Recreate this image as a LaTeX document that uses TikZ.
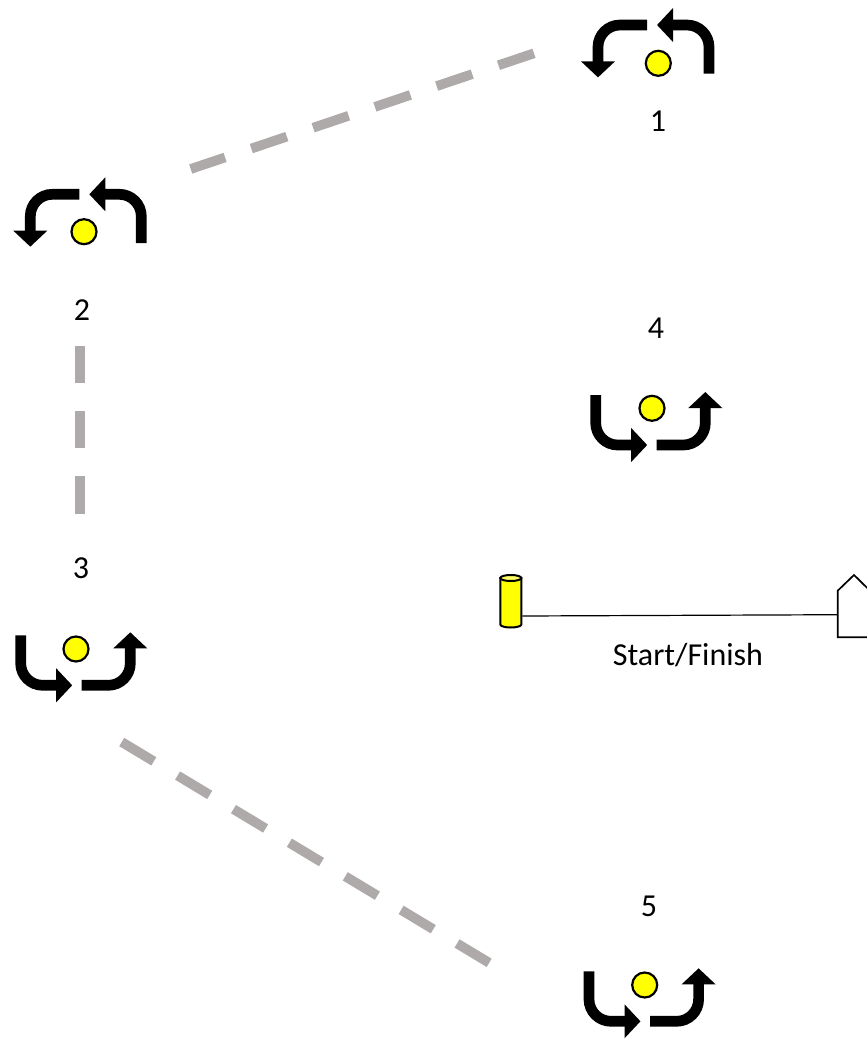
\documentclass[tikz,border=0pt]{standalone}
\usepackage{fontspec}
\setmainfont{Carlito}
\usetikzlibrary{arrows.meta}

\definecolor{legcolor}{HTML}{AEAAAA}
\definecolor{markcolor}{HTML}{FFFF00}
\definecolor{posttop}{HTML}{FFFF66}
\tikzset{
    turnarrow/.style={line width=10.7pt, rounded corners=22pt, -{Triangle[length=16pt,width=33pt]}},
    marker/.style={circle, draw, fill=markcolor, line width=2.2pt, inner sep=0pt, minimum size=25pt},
    tag/.style={inner sep=0pt, font=\fontsize{32}{32}\selectfont},
    leg/.style={draw=legcolor, line width=9.7pt, dash pattern=on 37.5pt off 27.7pt},
    pics/turnsdown/.style={code={
        \draw[turnarrow] (-6.5,0) -- (-55.5,0) -- (-55.5,52.4);
        \draw[turnarrow] (55.5,48.7) -- (55.5,0) -- (3.5,0);
    }},
    pics/turnsup/.style={code={
        \draw[turnarrow] (-54.8,-50) -- (-54.8,0) -- (-3.3,0);
        \draw[turnarrow] (6.2,0) -- (54.8,0) -- (54.8,-53);
    }}
}

\begin{document}
\begin{tikzpicture}[x=1pt,y=-1pt]
    \useasboundingbox (0,0) rectangle (867,1039);
    \clip (0,0) rectangle (867,1039);

    % Turns with their markers
    \pic at (653.5,25) {turnsdown};
    \node[marker] (mark1) at (658.3,63.3) {};
    \pic at (85.8,194.3) {turnsdown};
    \node[marker] (mark2) at (84,231.7) {};
    \pic at (75.5,685.3) {turnsup};
    \node[marker] (mark3) at (76,649) {};
    \pic at (650.5,445) {turnsup};
    \node[marker] (mark4) at (652,408.3) {};
    \pic at (643.8,1021.3) {turnsup};
    \node[marker] (mark5) at (644.7,985) {};

    % Numbers
    \node[tag] (num1) at (658,121) {1};
    \node[tag] (num2) at (82,310) {2};
    \node[tag] (num3) at (81,568) {3};
    \node[tag] (num4) at (656,328) {4};
    \node[tag] (num5) at (649,906) {5};

    % Legs between the turns
    \coordinate (leg1a) at (534,53.3);
    \coordinate (leg1b) at (190.7,169);
    \coordinate (leg2a) at (79.8,345.7);
    \coordinate (leg2b) at (79.8,514);
    \coordinate (leg3a) at (121.7,742);
    \coordinate (leg3b) at (490,963.3);
    \draw[leg] (leg1a) -- (leg1b);
    \draw[leg] (leg2a) -- (leg2b);
    \draw[leg] (leg3a) -- (leg3b);

    % Start/Finish line
    \filldraw[fill=markcolor, line width=2pt] (500.3,578) -- (500.3,624.5)
        arc[start angle=180, end angle=360, x radius=10.5, y radius=-3] -- (521.3,578) -- cycle;
    \filldraw[fill=posttop, line width=2pt] (510.8,578) ellipse[x radius=10.5, y radius=3];
    \draw[line width=1.7pt] (837.7,590.7) -- (854,575) -- (870,590.7) -- (870,637.3) -- (837.7,637.3) -- cycle;
    \coordinate (postfoot) at (522.3,616);
    \coordinate (gatefoot) at (837.7,614.7);
    \draw[line width=1.2pt] (postfoot) -- (gatefoot);
    \node[tag] (finish) at (688,655) {Start/Finish};
\end{tikzpicture}
\end{document}
